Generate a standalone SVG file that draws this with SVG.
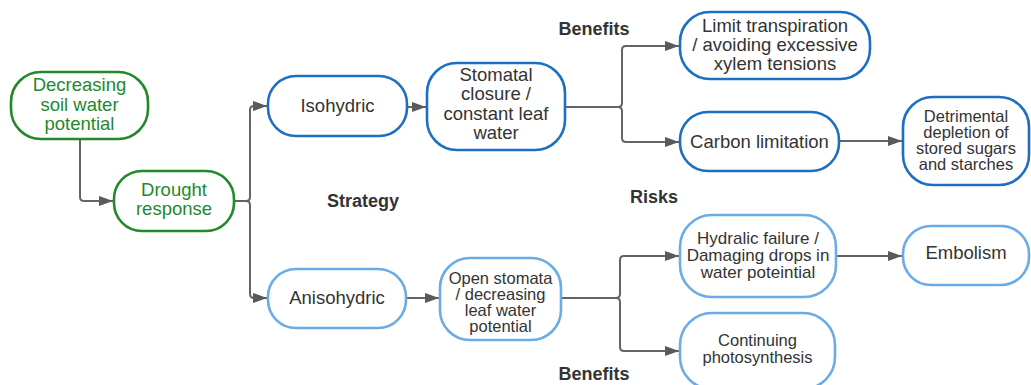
<svg xmlns="http://www.w3.org/2000/svg" width="1031" height="385" viewBox="0 0 1031 385">
<style>
.box{fill:#fff;stroke-width:2.6}
.g{stroke:#23892a}
.db{stroke:#1d6fc2}
.lb{stroke:#6aace6}
.t{font-family:"Liberation Sans",Arial,sans-serif;font-size:18.5px;fill:#333;text-anchor:middle}
.s{font-size:16.5px}
.h{font-size:17px}
.gt{fill:#23892a}
.lbl{font-family:"Liberation Sans",Arial,sans-serif;font-size:18px;font-weight:bold;fill:#333;text-anchor:middle}
.c{fill:none;stroke:#646464;stroke-width:2;marker-end:url(#arr)}
</style>
<defs>
<marker id="arr" viewBox="0 0 14 10" refX="14" refY="5" markerWidth="14" markerHeight="10" markerUnits="userSpaceOnUse" orient="auto">
<path d="M0,0 L14,5 L0,10 z" fill="#5a5a5a"/>
</marker>
</defs>
<g id="connectors">
<path class="c" d="M80,139 V197 Q80,201 84,201 H113"/>
<path class="c" d="M234,201 H246 Q250,201 250,197 V110 Q250,106 254,106 H267"/>
<path class="c" d="M234,201 H246 Q250,201 250,205 V294 Q250,298 254,298 H267"/>
<path class="c" d="M407,107 H426"/>
<path class="c" d="M565,107 H618 Q622,107 622,103 V50 Q622,46 626,46 H679"/>
<path class="c" d="M565,107 H618 Q622,107 622,111 V138 Q622,142 626,142 H679"/>
<path class="c" d="M839,141 H902"/>
<path class="c" d="M406,298 H439"/>
<path class="c" d="M561,298 H616 Q620,298 620,294 V260 Q620,256 624,256 H679"/>
<path class="c" d="M561,298 H616 Q620,298 620,302 V347 Q620,351 624,351 H679"/>
<path class="c" d="M836,256 H902"/>
</g>
<g id="n_decreasing">
<rect class="box g" x="11" y="72" width="137" height="67" rx="30"/>
<text class="t gt" x="79.5" y="91">Decreasing</text>
<text class="t gt" x="79.5" y="110.5">soil water</text>
<text class="t gt" x="79.5" y="130">potential</text>
</g>
<g id="n_drought">
<rect class="box g" x="114" y="171" width="120" height="60" rx="28"/>
<text class="t gt" x="174" y="196">Drought</text>
<text class="t gt" x="174" y="215">response</text>
</g>
<g id="n_isohydric">
<rect class="box db" x="268" y="76" width="139" height="60" rx="28"/>
<text class="t" x="337.5" y="112">Isohydric</text>
</g>
<g id="n_stomatal">
<rect class="box db" x="427" y="63" width="138" height="87" rx="30"/>
<text class="t" x="496" y="81">Stomatal</text>
<text class="t" x="496" y="100">closure /</text>
<text class="t" x="496" y="120">constant leaf</text>
<text class="t" x="496" y="139">water</text>
</g>
<g id="n_limit">
<rect class="box db" x="680" y="12" width="190" height="67" rx="30"/>
<text class="t" x="775" y="32">Limit transpiration</text>
<text class="t" x="775" y="51">/ avoiding excessive</text>
<text class="t" x="775" y="70">xylem tensions</text>
</g>
<g id="n_carbon">
<rect class="box db" x="680" y="112" width="159" height="59" rx="28"/>
<text class="t" x="759.5" y="148">Carbon limitation</text>
</g>
<g id="n_detrimental">
<rect class="box db" x="903" y="97" width="126" height="88" rx="30"/>
<text class="t s" x="966" y="122">Detrimental</text>
<text class="t s" x="966" y="138">depletion of</text>
<text class="t s" x="966" y="154">stored sugars</text>
<text class="t s" x="966" y="170">and starches</text>
</g>
<g id="n_anisohydric">
<rect class="box lb" x="268" y="269" width="138" height="59" rx="28"/>
<text class="t" x="337" y="304">Anisohydric</text>
</g>
<g id="n_open">
<rect class="box lb" x="440" y="258" width="121" height="82" rx="30"/>
<text class="t s" x="500.5" y="284">Open stomata</text>
<text class="t s" x="500.5" y="300">/ decreasing</text>
<text class="t s" x="500.5" y="316">leaf water</text>
<text class="t s" x="500.5" y="332">potential</text>
</g>
<g id="n_hydraulic">
<rect class="box lb" x="680" y="215" width="156" height="82" rx="32"/>
<text class="t h" x="758" y="244">Hydralic failure /</text>
<text class="t h" x="758" y="261">Damaging drops in</text>
<text class="t h" x="758" y="278">water poteintial</text>
</g>
<g id="n_embolism">
<rect class="box lb" x="903" y="226" width="126" height="59" rx="28"/>
<text class="t" x="966" y="259">Embolism</text>
</g>
<g id="n_continuing">
<rect class="box lb" x="680" y="313" width="155" height="76" rx="32"/>
<text class="t s" x="757.5" y="346">Continuing</text>
<text class="t s" x="757.5" y="362.5">photosynthesis</text>
</g>
<g id="labels">
<text class="lbl" x="594" y="35">Benefits</text>
<text class="lbl" x="363" y="207">Strategy</text>
<text class="lbl" x="654" y="203">Risks</text>
<text class="lbl" x="594" y="380">Benefits</text>
</g>
</svg>
